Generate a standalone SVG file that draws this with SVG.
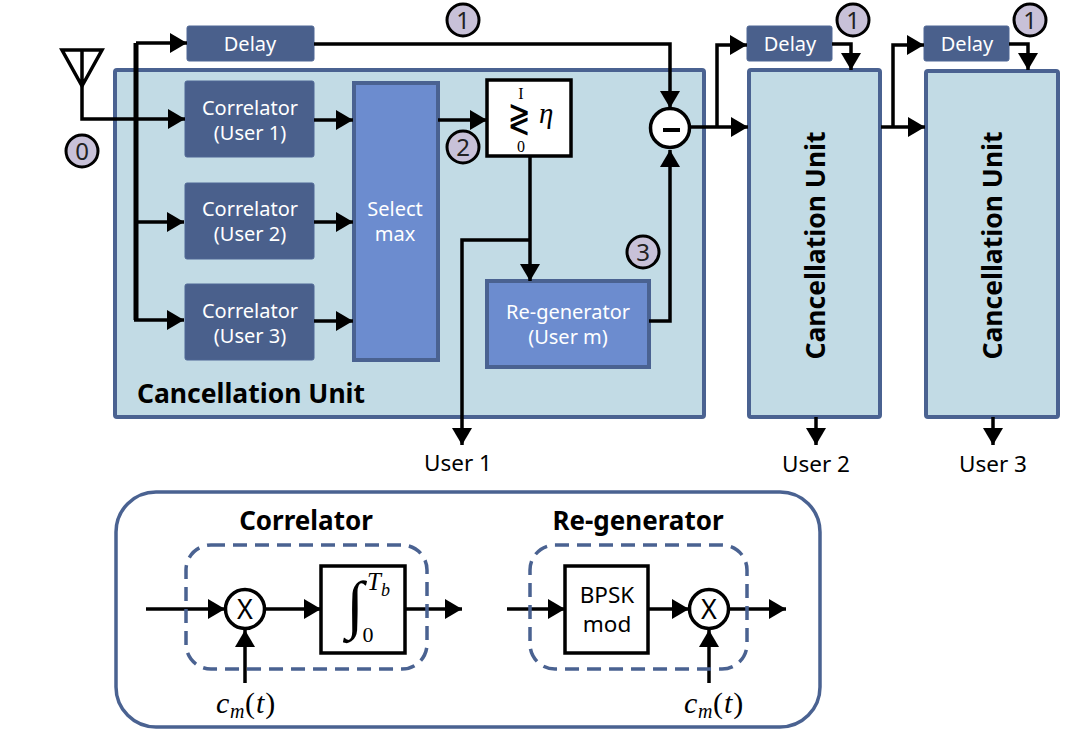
<svg xmlns="http://www.w3.org/2000/svg" width="1082" height="740" viewBox="0 0 1082 740">
<style>
text{font-family:"Noto Sans","Open Sans","Liberation Sans",sans-serif;text-anchor:middle}
.dark{fill:#4a608c;stroke:#4f6795;stroke-width:1;}
.unit{fill:#c2dbe5;stroke:#4a6291;stroke-width:4}
.sel{fill:#6c8ccf;stroke:#4a6291;stroke-width:4}
.wt{fill:#fff;font-size:20px}
.bk{fill:#000;font-size:22.5px}
.title{fill:#000;font-size:26px;font-weight:700}
.big{fill:#000;font-size:26.5px;font-weight:700}
.badge{fill:#c8c1d8;stroke:#000;stroke-width:3}
.bt{fill:#222;font-size:24px}
.box{fill:#fff;stroke:#000;stroke-width:3.5}
.cir{fill:#fff;stroke:#000;stroke-width:3.5}
.dash{fill:none;stroke:#4a6291;stroke-width:3.5;stroke-dasharray:14 8}
.c{fill:none;stroke:#000;stroke-width:3.5;marker-end:url(#a)}
.n{fill:none;stroke:#000;stroke-width:3.5}
.m{font-family:"Liberation Serif",serif;font-style:italic;fill:#000;text-anchor:start}
.s{font-family:"Liberation Serif",serif;fill:#000}
</style>
<defs>
<marker id="a" markerUnits="userSpaceOnUse" markerWidth="18" markerHeight="20" refX="17" refY="10" orient="auto"><path d="M0 0L17 10L0 20Z" fill="#000"/></marker>
</defs>
<g id="main-unit"><rect class="unit" x="115" y="70" width="589" height="347" rx="2"/><text class="big" x="251" y="403">Cancellation Unit</text></g>
<g id="delay1"><rect class="dark" x="187" y="26" width="127" height="35" rx="2"/><text class="wt" x="250" y="51">Delay</text></g>
<g id="corr1"><rect class="dark" x="185" y="81" width="129" height="76" rx="2"/><text class="wt" x="250" y="115">Correlator</text><text class="wt" x="250" y="140">(User 1)</text></g>
<g id="corr2"><rect class="dark" x="185" y="183" width="129" height="76" rx="2"/><text class="wt" x="250" y="216">Correlator</text><text class="wt" x="250" y="241">(User 2)</text></g>
<g id="corr3"><rect class="dark" x="185" y="284" width="129" height="76" rx="2"/><text class="wt" x="250" y="318">Correlator</text><text class="wt" x="250" y="343">(User 3)</text></g>
<g id="select"><rect class="sel" x="354" y="83" width="84" height="277"/><text class="wt" x="395" y="216">Select</text><text class="wt" x="395" y="241">max</text></g>
<g id="decision"><rect class="box" x="487" y="80" width="84" height="76"/><text class="s" x="521" y="99" style="font-size:16px">I</text><text class="s" x="521" y="152" style="font-size:16px">0</text><text transform="translate(519 132) scale(.66 1)" style="font-size:41px;font-family:'DejaVu Sans',sans-serif" fill="#000">≷</text><text class="m" x="539" y="123" style="font-size:29px">η</text></g>
<g id="regen"><rect class="sel" x="487" y="281" width="162" height="86"/><text class="wt" x="568" y="319">Re-generator</text><text class="wt" x="568" y="344">(User m)</text></g>
<g id="unit2"><rect class="unit" x="749" y="70" width="131" height="347" rx="2"/><text class="big" transform="translate(825 245.5) rotate(-90)">Cancellation Unit</text></g>
<g id="unit3"><rect class="unit" x="926" y="71" width="132" height="346" rx="2"/><text class="big" transform="translate(1002 245.5) rotate(-90)">Cancellation Unit</text></g>
<g id="delay2"><rect class="dark" x="747" y="26" width="85" height="35" rx="2"/><text class="wt" x="790" y="51">Delay</text></g>
<g id="delay3"><rect class="dark" x="924" y="26" width="85" height="35" rx="2"/><text class="wt" x="967" y="51">Delay</text></g>
<g id="antenna"><path class="n" d="M82 86L62 50H102ZM82 50V86"/></g>
<g id="connectors">
<path class="c" d="M82 86V119H185"/>
<path class="n" style="stroke-width:5" d="M136 43V320"/>
<path class="c" d="M136 43H187"/>
<path class="c" d="M136 222H184"/>
<path class="c" d="M134 320H184"/>
<path class="c" d="M314 120H353"/>
<path class="c" d="M314 222H353"/>
<path class="c" d="M314 321H353"/>
<path class="c" d="M438 120H487"/>
<path class="c" d="M530 156V281"/>
<path class="c" d="M530 240H462V445"/>
<path class="c" d="M314 44H670V108"/>
<path class="c" d="M649 321H670V150"/>
<path class="c" d="M690 127H748"/>
<path class="c" d="M717 127V45H747"/>
<path class="c" d="M832 44H851V70"/>
<path class="c" d="M881 127H925"/>
<path class="c" d="M893 127V45H924"/>
<path class="c" d="M1009 44H1028V70"/>
<path class="c" d="M816 417V445"/>
<path class="c" d="M993 417V445"/>
<path class="c" d="M146 609H225"/>
<path class="c" d="M265 609H321"/>
<path class="c" d="M405 609H462"/>
<path class="c" d="M245 683V630"/>
<path class="c" d="M507 609H565"/>
<path class="c" d="M648 609H689"/>
<path class="c" d="M729 609H786"/>
<path class="c" d="M709 683V630"/>
</g>
<g id="minus"><circle class="cir" cx="670" cy="128" r="19.5"/><rect x="663" y="128" width="17" height="4" fill="#000"/></g>
<g id="badge0"><circle class="badge" cx="82" cy="151" r="16"/><text class="bt" x="82" y="160">0</text></g>
<g id="badge1a"><circle class="badge" cx="463" cy="20" r="16"/><text class="bt" x="463" y="29">1</text></g>
<g id="badge2"><circle class="badge" cx="463" cy="147" r="16"/><text class="bt" x="463" y="156">2</text></g>
<g id="badge3"><circle class="badge" cx="643" cy="252" r="16"/><text class="bt" x="643" y="261">3</text></g>
<g id="badge1b"><circle class="badge" cx="853" cy="20" r="16"/><text class="bt" x="853" y="29">1</text></g>
<g id="badge1c"><circle class="badge" cx="1030" cy="20" r="16"/><text class="bt" x="1030" y="29">1</text></g>
<text class="bk" x="458" y="471">User 1</text>
<text class="bk" x="816" y="472">User 2</text>
<text class="bk" x="993" y="472">User 3</text>
<g id="legend"><rect x="116" y="492" width="704" height="235" rx="40" fill="none" stroke="#4a6291" stroke-width="3.5"/><text class="title" x="306" y="530">Correlator</text><text class="title" x="638" y="530">Re-generator</text></g>
<g id="corr-detail"><rect class="dash" x="186" y="545" width="241" height="124" rx="25"/>
<circle class="cir" cx="245" cy="609" r="19.5"/><text class="bk" x="245" y="619" style="font-size:27px">X</text>
<rect class="box" x="321" y="566" width="84" height="87"/>
<text class="s" x="355" y="626" style="font-size:64px">∫</text><text class="m" x="367" y="590" style="font-size:25px">T<tspan dy="6" font-size="18">b</tspan></text><text class="s" x="368" y="642" style="font-size:22px">0</text>
<text class="m" x="216" y="713" style="font-size:30px">c</text><text class="m" x="230" y="718" style="font-size:20px">m</text><text class="m" x="245" y="713" style="font-size:30px;letter-spacing:1px"><tspan font-style="normal">(</tspan>t<tspan font-style="normal">)</tspan></text></g>
<g id="regen-detail"><rect class="dash" x="530" y="545" width="217" height="124" rx="25"/>
<rect class="box" x="565" y="566" width="83" height="87"/><text class="bk" x="607" y="603">BPSK</text><text class="bk" x="607" y="632">mod</text>
<circle class="cir" cx="709" cy="609" r="19.5"/><text class="bk" x="709" y="619" style="font-size:27px">X</text>
<text class="m" x="684" y="713" style="font-size:30px">c</text><text class="m" x="698" y="718" style="font-size:20px">m</text><text class="m" x="713" y="713" style="font-size:30px;letter-spacing:1px"><tspan font-style="normal">(</tspan>t<tspan font-style="normal">)</tspan></text></g>
</svg>
